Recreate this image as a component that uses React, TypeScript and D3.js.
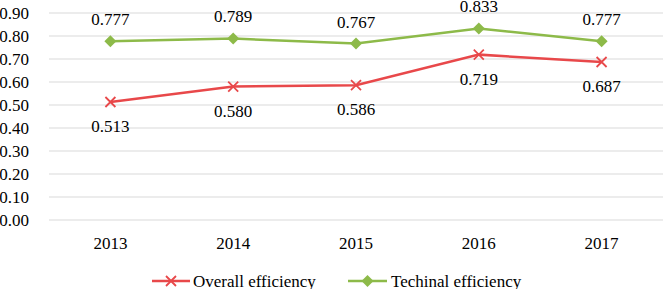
import React from "react";
import * as d3 from "d3";

const years = ["2013", "2014", "2015", "2016", "2017"];
const overall = [0.513, 0.58, 0.586, 0.719, 0.687];
const technical = [0.777, 0.789, 0.767, 0.833, 0.777];
const yTicks = [0, 0.1, 0.2, 0.3, 0.4, 0.5, 0.6, 0.7, 0.8, 0.9];

const W = 664, H = 289;
const RED = "#E8484A";
const GREEN = "#8DBA49";
const FONT = "Liberation Serif, Tinos, Times New Roman, DejaVu Serif, serif";

export default function App() {
  const x = d3.scaleBand().domain(years).range([49, 663]);
  const y = d3.scaleLinear().domain([0, 0.9]).range([220, 13]);
  const cx = (d: string) => (x(d) as number) + x.bandwidth() / 2;
  const line = d3.line<number>().x((_, i) => cx(years[i])).y((v) => y(v));

  const xMark = (px: number, py: number, key: string) => (
    <path key={key} d={`M${px - 5},${py - 5}L${px + 5},${py + 5}M${px - 5},${py + 5}L${px + 5},${py - 5}`} stroke={RED} strokeWidth={1.8} fill="none" />
  );
  const diamond = (px: number, py: number, key: string) => (
    <path key={key} d={`M${px},${py - 6}L${px + 6},${py}L${px},${py + 6}L${px - 6},${py}Z`} fill={GREEN} />
  );
  const ts: React.CSSProperties = { fontFamily: FONT, fontSize: "17px" };

  return (
    <svg width={W} height={H} style={{ position: "absolute", left: 0, top: 0 }}>
      <rect width={W} height={H} fill="#fff" />
      {yTicks.map((t) => (
        <g key={t}>
          <line x1={49} x2={663} y1={y(t)} y2={y(t)} stroke="#D9D9D9" strokeWidth={1.2} />
          <text x={29} y={y(t)} dy="0.35em" textAnchor="end" style={ts} fill="#000">{t.toFixed(2)}</text>
        </g>
      ))}
      {years.map((yr) => (
        <text key={yr} x={cx(yr)} y={243} dy="0.35em" textAnchor="middle" style={ts}>{yr}</text>
      ))}
      <path d={line(overall) || ""} stroke={RED} strokeWidth={2.5} fill="none" />
      <path d={line(technical) || ""} stroke={GREEN} strokeWidth={2.5} fill="none" />
      {overall.map((v, i) => xMark(cx(years[i]), y(v), "o" + i))}
      {technical.map((v, i) => diamond(cx(years[i]), y(v), "t" + i))}
      {overall.map((v, i) => (
        <text key={"ol" + i} x={cx(years[i])} y={y(v) + 24} dy="0.35em" textAnchor="middle" style={ts}>{v.toFixed(3)}</text>
      ))}
      {technical.map((v, i) => (
        <text key={"tl" + i} x={cx(years[i])} y={y(v) - 22} dy="0.35em" textAnchor="middle" style={ts}>{v.toFixed(3)}</text>
      ))}
      <g>
        <line x1={152} x2={190} y1={281} y2={281} stroke={RED} strokeWidth={2.5} />
        {xMark(171, 281, "lx")}
        <text x={193} y={281} dy="0.35em" style={ts}>Overall efficiency</text>
        <line x1={348} x2={387} y1={281} y2={281} stroke={GREEN} strokeWidth={2.5} />
        {diamond(367.5, 281, "ld")}
        <text x={391} y={281} dy="0.35em" style={ts}>Techinal efficiency</text>
      </g>
    </svg>
  );
}
